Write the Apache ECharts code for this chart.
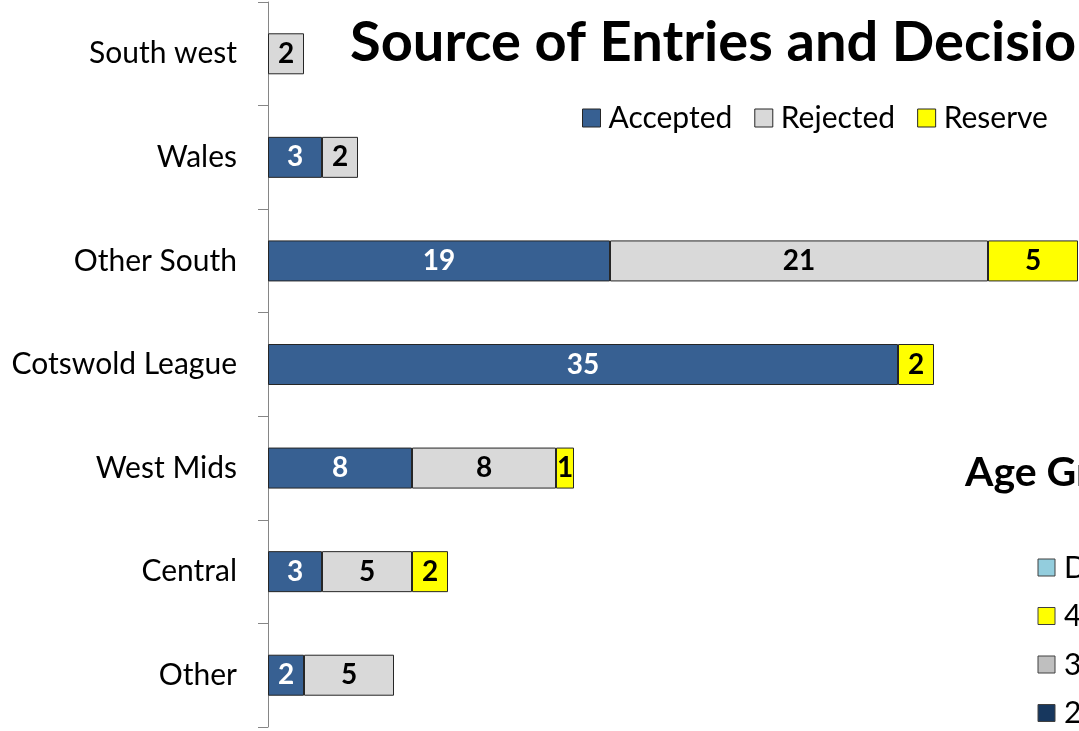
<!DOCTYPE html>
<html>
<head>
<meta charset="utf-8">
<script src="https://cdn.jsdelivr.net/npm/echarts@6/dist/echarts.min.js"></script>
<style>
  html, body { margin: 0; padding: 0; overflow: hidden; background: #fff; }
  #box { width: 1400px; height: 731px; }
</style>
</head>
<body>
<div id="box"></div>
<script>
var categories = ['South west', 'Wales', 'Other South', 'Cotswold League', 'West Mids', 'Central', 'Other'];
var accepted = [null, 3, 19, 35, 8, 3, 2];
var rejected = [2, 2, 21, null, 8, 5, 5];
var reserve = [null, null, 5, 2, 1, 2, null];

// second chart, only its title and legend show in the picture
var ageLegend = ['Did not say', '40+', '30-39', '20-29'];
var ageColors = ['#93cddd', '#ffff00', '#bfbfbf', '#17375e'];

var font = 'Lato, "Open Sans", sans-serif';

function barSeries(name, data, color, labelColor) {
    return {
        name: name,
        type: 'bar',
        stack: 'total',
        barWidth: 41,
        data: data,
        itemStyle: { color: color, borderColor: '#262626', borderWidth: 1 },
        label: {
            show: true,
            position: 'inside',
            color: labelColor,
            fontFamily: font,
            fontWeight: 'bold',
            fontSize: 28
        }
    };
}

var chart = echarts.init(document.getElementById('box'));
var ageGraphics = [];
ageLegend.forEach(function (name, i) {
    var y = 559 + i * 48.5;
    ageGraphics.push({
        type: 'rect',
        shape: { x: 1038, y: y, width: 17, height: 17 },
        style: { fill: ageColors[i], stroke: '#404040', lineWidth: 1 }
    });
    ageGraphics.push({
        type: 'text',
        x: 1064, y: y + 9,
        style: { text: name, fill: '#000', font: '30px ' + font, textVerticalAlign: 'middle' }
    });
});

var option = {
    animation: false,
    title: [{
        text: 'Source of Entries and Decisions',
        left: 345,
        top: 10,
        textStyle: { fontFamily: font, fontWeight: 'bold', fontSize: 56, color: '#000' }
    }, {
        text: 'Age Groups',
        left: 960,
        top: 447,
        textStyle: { fontFamily: font, fontWeight: 'bold', fontSize: 41, color: '#000' }
    }],
    legend: {
        left: 577,
        top: 98,
        itemWidth: 18,
        itemHeight: 18,
        itemGap: 22,
        textStyle: { fontFamily: font, fontSize: 30, color: '#000', padding: [0, 0, 0, 3] },
        data: [
            { name: 'Accepted', icon: 'rect', itemStyle: { borderColor: '#262626', borderWidth: 1 } },
            { name: 'Rejected', icon: 'rect', itemStyle: { borderColor: '#262626', borderWidth: 1 } },
            { name: 'Reserve', icon: 'rect', itemStyle: { borderColor: '#262626', borderWidth: 1 } }
        ]
    },
    grid: { left: 268, top: 2, height: 725, width: 1080, containLabel: false },
    xAxis: { type: 'value', min: 0, max: 60, show: false },
    yAxis: {
        type: 'category',
        inverse: true,
        data: categories,
        axisLine: { show: true, lineStyle: { color: '#868686', width: 1 } },
        axisTick: { show: true, length: 10, lineStyle: { color: '#868686' } },
        axisLabel: { margin: 31, color: '#000', fontFamily: font, fontSize: 30 }
    },
    graphic: ageGraphics,
    series: [
        barSeries('Accepted', accepted, '#376092', '#fff'),
        barSeries('Rejected', rejected, '#d9d9d9', '#000'),
        barSeries('Reserve', reserve, '#ffff00', '#000')
    ]
};
chart.setOption(option);
</script>
</body>
</html>
